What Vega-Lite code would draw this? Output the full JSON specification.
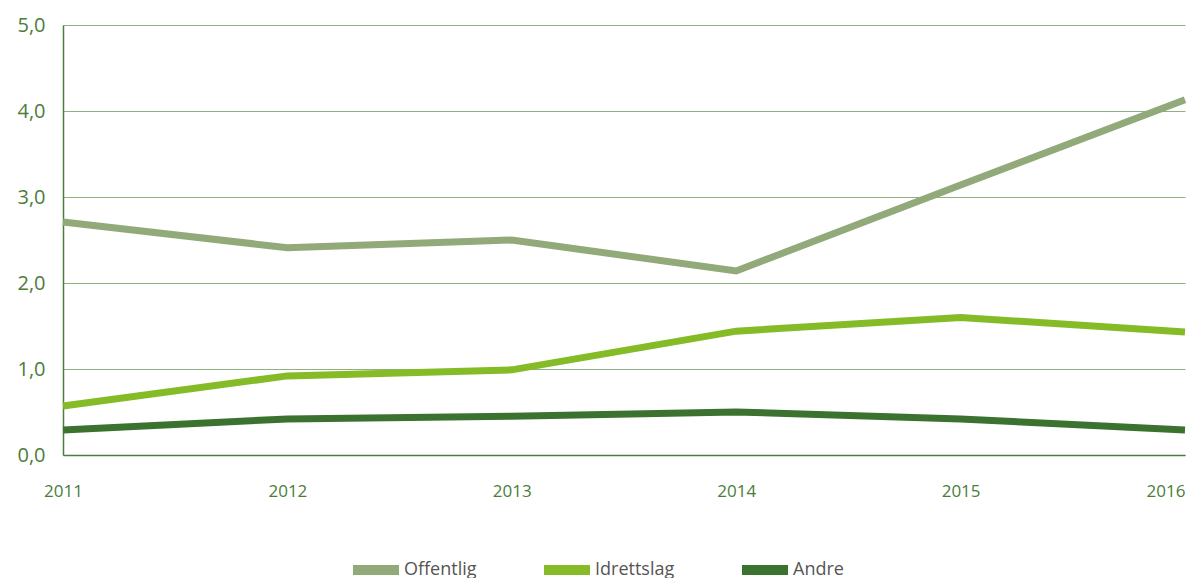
{
  "$schema": "https://vega.github.io/schema/vega-lite/v6.json",
  "autosize": {"type": "none"},
  "width": 1122,
  "height": 430,
  "padding": {"left": 63, "top": 25, "right": 5, "bottom": 123},
  "background": "white",
  "data": {"values": [
    {"year": 2011, "serie": "Offentlig", "verdi": 2.71},
    {"year": 2012, "serie": "Offentlig", "verdi": 2.41},
    {"year": 2013, "serie": "Offentlig", "verdi": 2.50},
    {"year": 2014, "serie": "Offentlig", "verdi": 2.14},
    {"year": 2015, "serie": "Offentlig", "verdi": 3.14},
    {"year": 2016, "serie": "Offentlig", "verdi": 4.13},
    {"year": 2011, "serie": "Idrettslag", "verdi": 0.57},
    {"year": 2012, "serie": "Idrettslag", "verdi": 0.92},
    {"year": 2013, "serie": "Idrettslag", "verdi": 0.99},
    {"year": 2014, "serie": "Idrettslag", "verdi": 1.44},
    {"year": 2015, "serie": "Idrettslag", "verdi": 1.60},
    {"year": 2016, "serie": "Idrettslag", "verdi": 1.43},
    {"year": 2011, "serie": "Andre", "verdi": 0.29},
    {"year": 2012, "serie": "Andre", "verdi": 0.42},
    {"year": 2013, "serie": "Andre", "verdi": 0.45},
    {"year": 2014, "serie": "Andre", "verdi": 0.50},
    {"year": 2015, "serie": "Andre", "verdi": 0.42},
    {"year": 2016, "serie": "Andre", "verdi": 0.29}
  ]},
  "mark": {"type": "line", "strokeWidth": 7, "strokeCap": "butt", "strokeJoin": "miter"},
  "encoding": {
    "x": {
      "field": "year", "type": "quantitative",
      "scale": {"domain": [2011, 2016], "nice": false, "zero": false},
      "axis": {
        "title": null, "values": [2011, 2012, 2013, 2014, 2015, 2016], "format": "d",
        "grid": false, "ticks": false, "domain": true, "domainColor": "#4d7d3d", "domainWidth": 1.5,
        "labelPadding": 28, "labelFontSize": 17, "labelFont": "Open Sans", "labelColor": "#4a7d3a",
        "labelFlush": false, "labelBound": false,
        "labelAlign": {"expr": "datum.value == 2016 ? 'right' : 'center'"},
        "labelOverlap": false
      }
    },
    "y": {
      "field": "verdi", "type": "quantitative",
      "scale": {"domain": [0, 5], "nice": false},
      "axis": {
        "title": null, "values": [0, 1, 2, 3, 4, 5],
        "labelExpr": "replace(format(datum.value, '.1f'), '.', ',')",
        "grid": true, "gridColor": "#8fb07f", "gridWidth": 1.2,
        "ticks": false, "domain": true, "domainColor": "#4d7d3d", "domainWidth": 1.5,
        "labelPadding": 18, "labelFontSize": 20, "labelFont": "Open Sans", "labelColor": "#4a7d3a"
      }
    },
    "color": {
      "field": "serie", "type": "nominal",
      "sort": ["Offentlig", "Idrettslag", "Andre"],
      "scale": {"domain": ["Offentlig", "Idrettslag", "Andre"], "range": ["#92a97a", "#84bb26", "#3b7230"]},
      "legend": {
        "title": null, "orient": "none", "direction": "horizontal", "legendX": 285, "legendY": 517,
        "symbolType": "stroke", "symbolStrokeWidth": 10, "symbolSize": 2116,
        "labelFont": "Open Sans", "labelFontSize": 18, "labelColor": "#555555",
        "labelOffset": 0, "columnPadding": 47
      }
    }
  },
  "config": {"view": {"stroke": null}}
}
